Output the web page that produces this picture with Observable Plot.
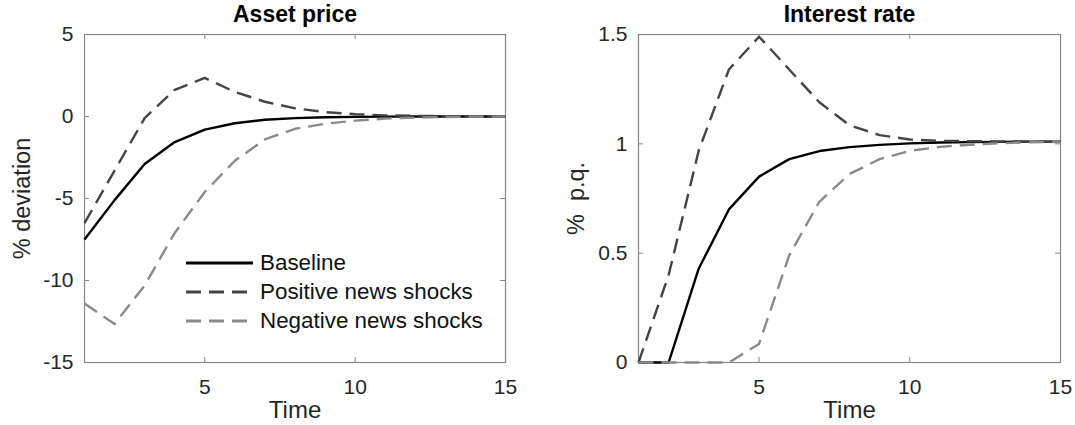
<!DOCTYPE html>
<html>
<head>
<meta charset="utf-8">
<script src="https://cdn.jsdelivr.net/npm/d3@7"></script>
<script src="https://cdn.jsdelivr.net/npm/@observablehq/plot@0.6"></script>
<style>
  body { margin: 0; background: #fff; font-family: "Liberation Sans", Arial, sans-serif; }
  #wrap { position: relative; width: 1075px; height: 425px; overflow: hidden; }
  .panel { position: absolute; top: 0; }
  .legend { position: absolute; left: 186px; top: 248px; font-size: 22.4px; color: #111; }
  .legend .row { display: flex; align-items: center; height: 29px; }
  .legend svg { width: 67px; height: 8px; margin-right: 7px; }
</style>
</head>
<body>
<div id="wrap"></div>
<script>
// Impulse responses, quarters 1..15
const time = [1, 2, 3, 4, 5, 6, 7, 8, 9, 10, 11, 12, 13, 14, 15];

// Asset price, % deviation
const assetBaseline = [-7.5, -5.1, -2.9, -1.56, -0.8, -0.41, -0.2, -0.1, -0.05, -0.02, -0.01, 0, 0, 0, 0];
const assetPositive = [-6.5, -3.3, -0.1, 1.63, 2.35, 1.5, 0.9, 0.5, 0.27, 0.14, 0.07, 0.04, 0.02, 0.01, 0];
const assetNegative = [-11.4, -12.65, -10.3, -7.1, -4.6, -2.7, -1.4, -0.75, -0.44, -0.25, -0.13, -0.07, -0.03, -0.01, 0];

// Interest rate, % p.q.
const rateBaseline = [0, 0, 0.43, 0.7, 0.85, 0.93, 0.967, 0.985, 0.995, 1.002, 1.006, 1.008, 1.009, 1.01, 1.01];
const ratePositive = [0, 0.4, 0.97, 1.34, 1.49, 1.34, 1.19, 1.085, 1.04, 1.02, 1.014, 1.012, 1.011, 1.01, 1.01];
const rateNegative = [0, 0, 0, 0, 0.085, 0.49, 0.735, 0.862, 0.93, 0.968, 0.986, 0.996, 1.003, 1.007, 1.009];

// Axis ticks
const xTicks = [5, 10, 15];
const assetTicks = [-15, -10, -5, 0, 5];
const rateTicks = [0, 0.5, 1, 1.5];

const seriesNames = ["Baseline", "Positive news shocks", "Negative news shocks"];
const seriesStyles = [
  { stroke: "#000000", dash: null },
  { stroke: "#444444", dash: "15,8" },
  { stroke: "#8a8a8a", dash: "15,8" }
];

const frameColor = "#878787";
const textColor = "#262626";

function panel({ title, ylabel, yDomain, yTicks, values, left, width, marginLeft, marginRight }) {
  const marginTop = 34, marginBottom = 63, height = 425;
  const innerW = width - marginLeft - marginRight;
  const innerH = height - marginTop - marginBottom;
  const tick = 5;
  const marks = [
    Plot.frame({ stroke: frameColor, strokeWidth: 1.2 }),
    // inward tick marks on all four sides
    Plot.tickX(xTicks, { x: d => d, stroke: frameColor, insetTop: innerH - tick }),
    Plot.tickX(xTicks, { x: d => d, stroke: frameColor, insetBottom: innerH - tick }),
    Plot.tickY(yTicks, { y: d => d, stroke: frameColor, insetRight: innerW - tick }),
    Plot.tickY(yTicks, { y: d => d, stroke: frameColor, insetLeft: innerW - tick }),
    Plot.axisX({ ticks: xTicks, tickSize: 0, tickPadding: 17, fontSize: 21, fill: textColor, label: null, tickFormat: d => String(d) }),
    Plot.axisY({ ticks: yTicks, tickSize: 0, tickPadding: 11, fontSize: 21, fill: textColor, label: null, tickFormat: d => String(d) }),
    Plot.text([title], { frameAnchor: "top", dy: -20, lineAnchor: "middle", textAnchor: "middle", fontSize: 23, fontWeight: "bold", fill: "#000" }),
    Plot.text(["Time"], { frameAnchor: "bottom", dy: 48, lineAnchor: "middle", textAnchor: "middle", fontSize: 24, fill: textColor }),
    Plot.text([ylabel], { frameAnchor: "left", dx: -62, rotate: -90, lineAnchor: "middle", textAnchor: "middle", fontSize: 23.5, fill: textColor })
  ];
  values.forEach((vals, i) => {
    const rows = time.map((t, k) => ({ t, v: vals[k] }));
    marks.push(Plot.line(rows, {
      x: "t", y: "v",
      stroke: seriesStyles[i].stroke,
      strokeWidth: 2.4,
      strokeDasharray: seriesStyles[i].dash,
      strokeLinecap: "butt",
      strokeLinejoin: "round"
    }));
  });
  const chart = Plot.plot({
    width, height, marginTop, marginBottom, marginLeft, marginRight,
    style: { background: "white", fontFamily: "Liberation Sans, Arial, sans-serif", fontSize: "20px", color: textColor },
    x: { domain: [1, 15] },
    y: { domain: yDomain },
    marks
  });
  chart.classList.add("panel");
  chart.style.left = left + "px";
  return chart;
}

const wrap = document.getElementById("wrap");
wrap.appendChild(panel({
  title: "Asset price", ylabel: "% deviation",
  yDomain: [-15, 5], yTicks: assetTicks,
  values: [assetBaseline, assetPositive, assetNegative],
  left: 0, width: 537, marginLeft: 84, marginRight: 32
}));
wrap.appendChild(panel({
  title: "Interest rate", ylabel: "%  p.q.",
  yDomain: [0, 1.5], yTicks: rateTicks,
  values: [rateBaseline, ratePositive, rateNegative],
  left: 537, width: 538, marginLeft: 101, marginRight: 15
}));

// Legend for the asset price panel
const legend = document.createElement("div");
legend.className = "legend";
seriesNames.forEach((name, i) => {
  const row = document.createElement("div");
  row.className = "row";
  const s = seriesStyles[i];
  row.innerHTML = `<svg viewBox="0 0 67 8"><line x1="0" x2="67" y1="4" y2="4" stroke="${s.stroke}" stroke-width="3"${s.dash ? ` stroke-dasharray="${s.dash}"` : ""}/></svg><span>${name}</span>`;
  legend.appendChild(row);
});
wrap.appendChild(legend);
</script>
</body>
</html>
